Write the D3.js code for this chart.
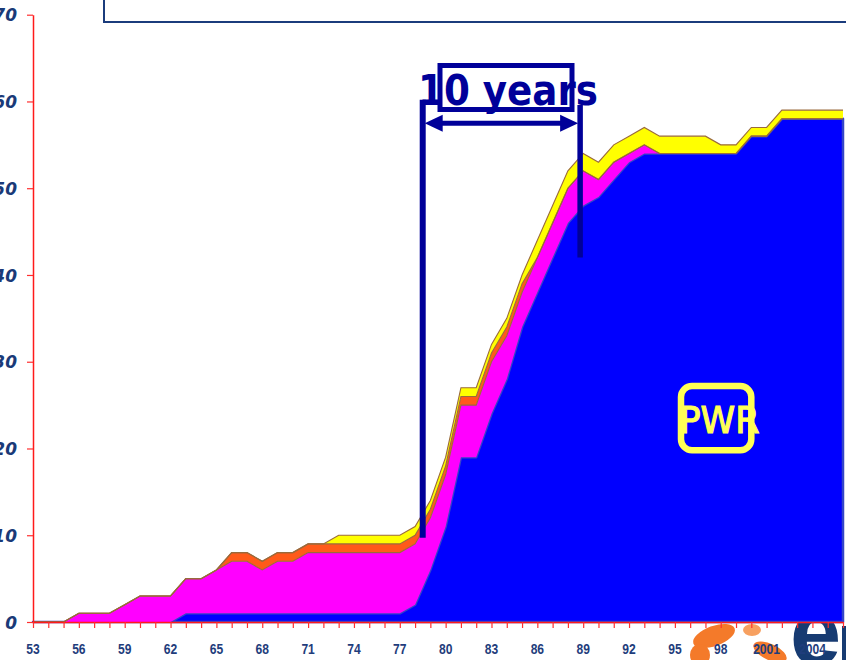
<!DOCTYPE html>
<html>
<head>
<meta charset="utf-8">
<script src="https://cdn.jsdelivr.net/npm/d3@7"></script>
<style>
body { margin: 0; background: #fff; }
svg { display: block; }
</style>
</head>
<body>
<div class="chart"></div>
<script>
// reactors in operation per year, stacked
var years = [1953, 1954, 1955, 1956, 1957, 1958, 1959, 1960, 1961, 1962,
	1963, 1964, 1965, 1966, 1967, 1968, 1969, 1970, 1971, 1972,
	1973, 1974, 1975, 1976, 1977, 1978, 1979, 1980, 1981, 1982,
	1983, 1984, 1985, 1986, 1987, 1988, 1989, 1990, 1991, 1992,
	1993, 1994, 1995, 1996, 1997, 1998, 1999, 2000, 2001, 2002,
	2003, 2004, 2005, 2006];
var pwr = [0, 0, 0, 0, 0, 0, 0, 0, 0, 0,
	1, 1, 1, 1, 1, 1, 1, 1, 1, 1,
	1, 1, 1, 1, 1, 2, 6, 11, 19, 19,
	24, 28, 34, 38, 42, 46, 48, 49, 51, 53,
	54, 54, 54, 54, 54, 54, 54, 56, 56, 58,
	58, 58, 58, 58];
var gcr = [0, 0, 0, 1, 1, 1, 2, 3, 3, 3,
	4, 4, 5, 6, 6, 5, 6, 6, 7, 7,
	7, 7, 7, 7, 7, 7, 6, 6, 6, 6,
	6, 5, 4, 4, 4, 4, 4, 2, 2, 1,
	1, 0, 0, 0, 0, 0, 0, 0, 0, 0,
	0, 0, 0, 0];
var hwr = [0, 0, 0, 0, 0, 0, 0, 0, 0, 0,
	0, 0, 0, 1, 1, 1, 1, 1, 1, 1,
	1, 1, 1, 1, 1, 1, 1, 1, 1, 1,
	1, 1, 1, 0, 0, 0, 0, 0, 0, 0,
	0, 0, 0, 0, 0, 0, 0, 0, 0, 0,
	0, 0, 0, 0];
var fbr = [0, 0, 0, 0, 0, 0, 0, 0, 0, 0,
	0, 0, 0, 0, 0, 0, 0, 0, 0, 0,
	1, 1, 1, 1, 1, 1, 1, 1, 1, 1,
	1, 1, 1, 2, 2, 2, 2, 2, 2, 2,
	2, 2, 2, 2, 2, 1, 1, 1, 1, 1,
	1, 1, 1, 1];

var yTicks = [0, 10, 20, 30, 40, 50, 60, 70];
var labelYears = [1953, 1956, 1959, 1962, 1965, 1968, 1971, 1974, 1977, 1980,
	1983, 1986, 1989, 1992, 1995, 1998, 2001, 2004];
var labelText = ['53', '56', '59', '62', '65', '68', '71', '74', '77', '80',
	'83', '86', '89', '92', '95', '98', '2001', '2004'];

// annotation: span of the "10 years" arrow
var spanStart = 1978.5, spanEnd = 1988.8;

var width = 846, height = 660;

var svg = d3.select('.chart')
	.append('svg')
	.attr('width', width)
	.attr('height', height);

var x = d3.scaleLinear().domain([1953, 2006]).range([33, 843]);
var y = d3.scaleLinear().domain([0, 70]).range([622, 14.7]);

// background logo in the corner (slide decoration)
var logo = svg.append('g').attr('class', 'logo');
logo.append('ellipse').attr('cx', 714).attr('cy', 636).attr('rx', 22).attr('ry', 10)
	.attr('transform', 'rotate(-20 714 636)').style('fill', '#f47a2a');
logo.append('ellipse').attr('cx', 700).attr('cy', 655).attr('rx', 10).attr('ry', 11)
	.style('fill', '#f47a2a');
logo.append('ellipse').attr('cx', 752).attr('cy', 630).attr('rx', 9).attr('ry', 6)
	.style('fill', '#f7a060');
logo.append('ellipse').attr('cx', 770).attr('cy', 652).attr('rx', 18).attr('ry', 8)
	.attr('transform', 'rotate(25 770 652)').style('fill', '#f47a2a');
logo.append('text').attr('x', 790).attr('y', 664)
	.style('font-family', 'Arial, "Liberation Sans", sans-serif')
	.style('font-weight', 'bold').style('font-size', '92px')
	.style('fill', '#173b72').text('e');
logo.append('rect').attr('x', 842).attr('y', 626).attr('width', 4).attr('height', 34)
	.style('fill', '#173b72');

// title frame of the slide
svg.append('rect')
	.attr('x', 104).attr('y', -10)
	.attr('width', 760).attr('height', 32)
	.style('fill', 'none')
	.style('stroke', '#1b3c7c')
	.style('stroke-width', 2);

var rows = years.map(function (yr, i) {
	return { year: yr, pwr: pwr[i], gcr: gcr[i], hwr: hwr[i], fbr: fbr[i] };
});
var keys = ['pwr', 'gcr', 'hwr', 'fbr'];
var colors = { pwr: '#0000ff', gcr: '#ff00ff', hwr: '#ff5a1a', fbr: '#ffff00' };

var series = d3.stack().keys(keys)(rows);

var area = d3.area()
	.x(function (d) { return x(d.data.year); })
	.y0(function (d) { return y(d[0]); })
	.y1(function (d) { return y(d[1]); });

var topLine = d3.line()
	.x(function (d) { return x(d.data.year); })
	.y(function (d) { return y(d[1]); });

svg.append('g')
	.selectAll('path')
	.data(series)
	.enter()
	.append('path')
	.attr('d', area)
	.style('fill', function (d) { return colors[d.key]; })
	.style('stroke', function (d) { return d.key === 'pwr' ? '#3545c8' : 'none'; })
	.style('stroke-width', 2.5)
	.style('stroke-linejoin', 'round');

// thin brown edges on the upper series
svg.append('g')
	.selectAll('path')
	.data(series.slice(1))
	.enter()
	.append('path')
	.attr('d', topLine)
	.style('fill', 'none')
	.style('stroke', '#9a6a3c')
	.style('stroke-width', 1.1);

// axes
var yAxis = d3.axisLeft(y)
	.tickValues(yTicks)
	.tickSizeInner(6)
	.tickSizeOuter(0)
	.tickPadding(10)
	.tickFormat(d3.format('d'));

var gy = svg.append('g')
	.attr('class', 'yaxis')
	.attr('transform', 'translate(33, 0)')
	.call(yAxis);

var xAxis = d3.axisBottom(x)
	.tickValues(years)
	.tickSizeInner(6)
	.tickSizeOuter(0)
	.tickFormat('');

var gx = svg.append('g')
	.attr('class', 'xaxis')
	.attr('transform', 'translate(0, 622)')
	.call(xAxis);

svg.selectAll('.yaxis .domain, .xaxis .domain')
	.style('stroke', '#ff1a1a')
	.style('stroke-width', 1.5);
svg.selectAll('.yaxis .tick line, .xaxis .tick line')
	.style('stroke', '#ff3030')
	.style('stroke-width', 1.2);

gy.selectAll('text')
	.attr('x', -16)
	.attr('dy', '0.36em')
	.style('font-family', '"DejaVu Sans", Verdana, sans-serif')
	.style('font-weight', 'bold')
	.style('font-style', 'italic')
	.style('font-size', '17px')
	.style('fill', '#1a3a78');

svg.append('g')
	.selectAll('text')
	.data(labelYears)
	.enter()
	.append('text')
	.attr('transform', function (d) { return 'translate(' + x(d) + ', 654) scale(0.78, 1)'; })
	.attr('text-anchor', 'middle')
	.style('font-family', '"Liberation Sans", Arial, sans-serif')
	.style('font-weight', 'bold')
	.style('font-size', '15.5px')
	.style('fill', '#1f3d7c')
	.text(function (d, i) { return labelText[i]; });

// "10 years" annotation
var navy = '#000099';
var ann = svg.append('g').attr('class', 'annotation');

ann.append('line')
	.attr('x1', x(spanStart)).attr('x2', x(spanStart))
	.attr('y1', y(60.2)).attr('y2', y(9.7))
	.style('stroke', navy).style('stroke-width', 6);

ann.append('line')
	.attr('x1', x(spanEnd)).attr('x2', x(spanEnd))
	.attr('y1', y(59.6)).attr('y2', y(42))
	.style('stroke', navy).style('stroke-width', 5.5);

var ay = y(57.5);
var xa = x(spanStart) + 2, xb = x(spanEnd) - 2;
ann.append('line')
	.attr('x1', xa + 10).attr('x2', xb - 10)
	.attr('y1', ay).attr('y2', ay)
	.style('stroke', navy).style('stroke-width', 5);
ann.append('polygon')
	.attr('points', [[xa, ay], [xa + 18, ay - 8.5], [xa + 18, ay + 8.5]].join(' '))
	.style('fill', navy);
ann.append('polygon')
	.attr('points', [[xb, ay], [xb - 18, ay - 8.5], [xb - 18, ay + 8.5]].join(' '))
	.style('fill', navy);

ann.append('rect')
	.attr('x', 440).attr('y', 65.5)
	.attr('width', 132).attr('height', 44)
	.style('fill', 'none')
	.style('stroke', navy)
	.style('stroke-width', 5);

ann.append('text')
	.attr('x', 418).attr('y', 105)
	.attr('textLength', 180)
	.attr('lengthAdjust', 'spacingAndGlyphs')
	.style('font-family', '"DejaVu Sans", sans-serif')
	.style('font-weight', 'bold')
	.style('font-size', '42px')
	.style('fill', navy)
	.text('10 years');

// PWR label
var pwrLabel = svg.append('g').attr('class', 'pwr-label');
pwrLabel.append('rect')
	.attr('x', x(1995.4)).attr('y', y(27.2))
	.attr('width', x(2000.0) - x(1995.4))
	.attr('height', y(19.8) - y(27.2))
	.attr('rx', 11)
	.style('fill', 'none')
	.style('stroke', '#ffff55')
	.style('stroke-width', 6.5);
pwrLabel.append('text')
	.attr('x', x(1995.3)).attr('y', y(21.8))
	.attr('textLength', 80)
	.attr('lengthAdjust', 'spacingAndGlyphs')
	.style('font-family', '"DejaVu Sans", sans-serif')
	.style('font-size', '38px')
	.style('fill', '#ffff55')
	.style('stroke', '#ffff55')
	.style('stroke-width', 1.2)
	.text('PWR');
</script>
</body>
</html>
